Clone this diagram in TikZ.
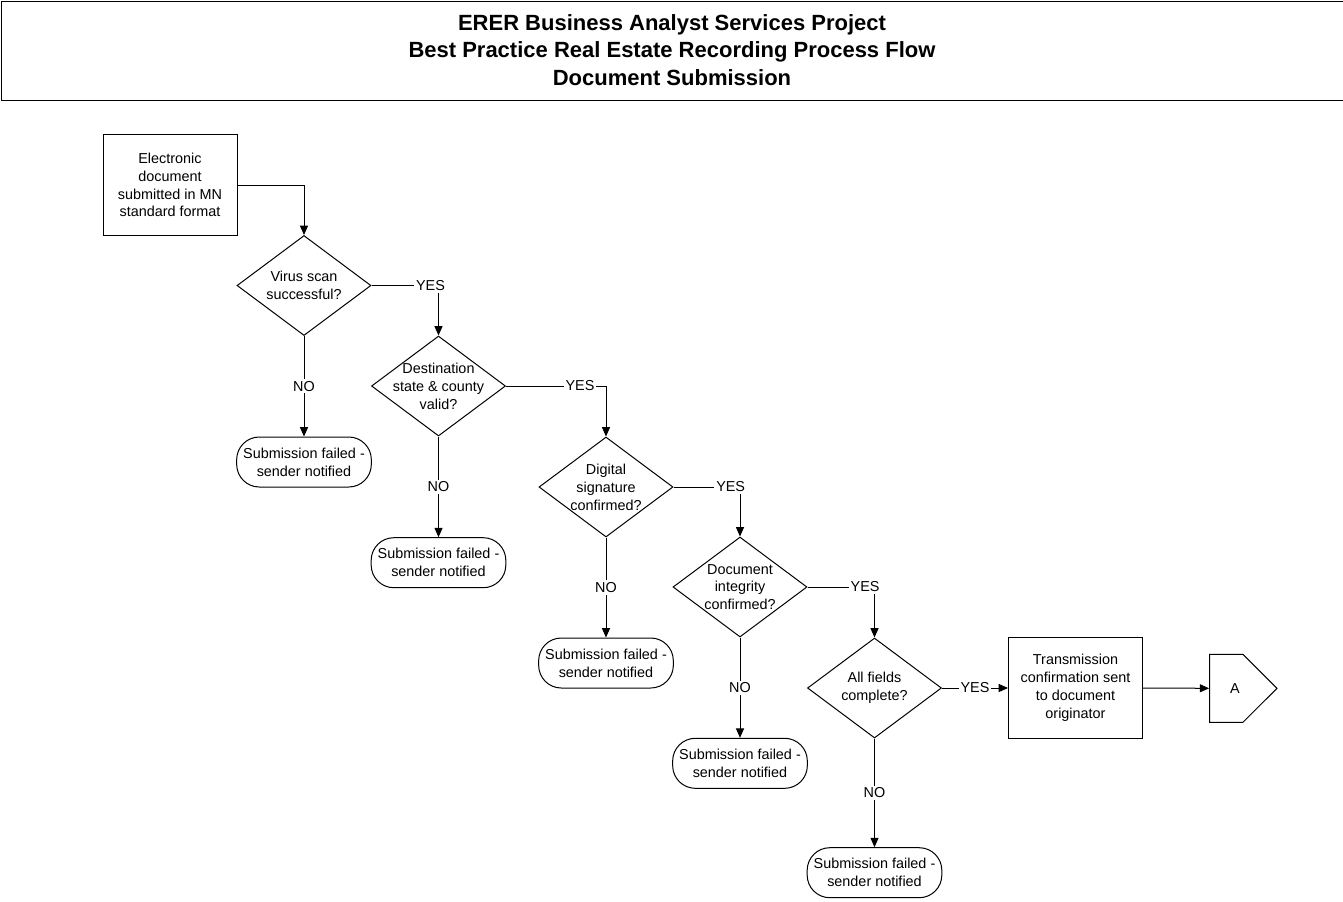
\documentclass[tikz,border=0pt]{standalone}
\usepackage{fontspec}
\setmainfont{Liberation Sans}
\usetikzlibrary{shapes.geometric,shapes.symbols,arrows.meta}

\begin{document}
\begin{tikzpicture}[
    x=0.75pt, y=-0.75pt,
    every node/.style={font=\fontsize{10.8}{13.4}\selectfont},
    procbox/.style={rectangle, draw=black, line width=0.75pt, minimum width=100.5pt, minimum height=76pt, inner sep=1pt, align=center},
    decision/.style={diamond, draw=black, line width=0.75pt, minimum width=100.5pt, minimum height=75pt, inner sep=0pt},
    terminal/.style={rectangle, rounded corners=17pt, draw=black, line width=0.75pt, minimum width=101pt, minimum height=37.5pt, inner sep=0pt, align=center},
    offpage/.style={signal, signal to=east, signal pointer angle=90, draw=black, line width=0.75pt, minimum width=50.5pt, minimum height=51pt, inner sep=0pt},
    txt/.style={align=center, inner sep=0pt},
    lbl/.style={fill=white, inner sep=1.5pt},
    title/.style={align=center, font=\fontsize{16.5}{20.6}\selectfont\bfseries},
    flow/.style={line width=0.75pt, -{Triangle[length=7pt, width=6pt]}}
]
    \useasboundingbox (0,0) rectangle (1343,901);

    % --- header ---
    \draw[line width=0.75pt] (1,1) rectangle (1360,100.5);
    \node[title] (hdr) at (672,50) {ERER Business Analyst Services Project\\Best Practice Real Estate Recording Process Flow\\Document Submission};

    % --- nodes ---
    \node[procbox] (start) at (170,185) {Electronic\\document\\submitted in MN\\standard format};

    \node[decision] (d1) at (304,285.5) {}; \node[txt] (d1t) at (304,285.5) {Virus scan\\successful?};
    \node[decision] (d2) at (438.5,386) {}; \node[txt] (d2t) at (438.5,386) {Destination\\state \& county\\valid?};
    \node[decision] (d3) at (606,487) {}; \node[txt] (d3t) at (606,487) {Digital\\signature\\confirmed?};
    \node[decision] (d4) at (740,587) {}; \node[txt] (d4t) at (740,587) {Document\\integrity\\confirmed?};
    \node[decision] (d5) at (874.5,688) {}; \node[txt] (d5t) at (874.5,688) {All fields\\complete?};

    \node[terminal] (f1) at (304,462) {Submission failed -\\sender notified};
    \node[terminal] (f2) at (438.5,562.7) {Submission failed -\\sender notified};
    \node[terminal] (f3) at (606,663) {Submission failed -\\sender notified};
    \node[terminal] (f4) at (740,763.3) {Submission failed -\\sender notified};
    \node[terminal] (f5) at (874.5,872.7) {Submission failed -\\sender notified};

    \node[procbox] (sent) at (1075.5,688) {Transmission\\confirmation sent\\to document\\originator};
    \node[offpage] (conA) at (1226.3,688.3) {}; \node[txt] (conAt) at (1235,688.3) {A};

    % --- connectors ---
    \draw[flow] (start.east) -| (d1.north);
    \draw[flow] (d1.east) -| node[lbl, pos=0.44] {YES} (d2.north);
    \draw[flow] (d2.east) -| node[lbl, pos=0.37] {YES} (d3.north);
    \draw[flow] (d3.east) -| node[lbl, pos=0.43] {YES} (d4.north);
    \draw[flow] (d4.east) -| node[lbl, pos=0.43] {YES} (d5.north);
    \draw[flow] (d5.east) -- node[lbl] {YES} (sent.west);
    \draw[flow] (sent.east) -- (conA.west);

    \draw[flow] (d1.south) -- node[lbl] {NO} (f1.north);
    \draw[flow] (d2.south) -- node[lbl] {NO} (f2.north);
    \draw[flow] (d3.south) -- node[lbl] {NO} (f3.north);
    \draw[flow] (d4.south) -- node[lbl] {NO} (f4.north);
    \draw[flow] (d5.south) -- node[lbl] {NO} (f5.north);
\end{tikzpicture}
\end{document}
